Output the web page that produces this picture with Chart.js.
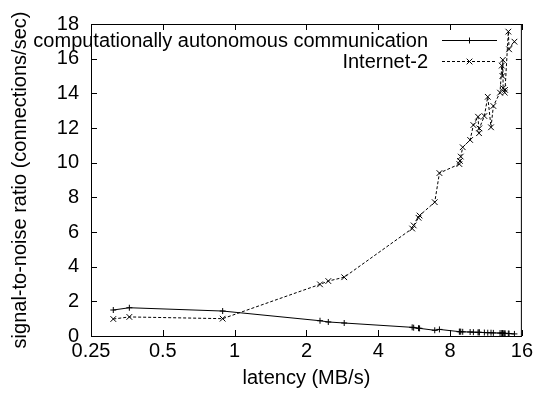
<!DOCTYPE html>
<html>
<head>
<meta charset="utf-8">
<script src="https://cdn.jsdelivr.net/npm/chart.js@4/dist/chart.umd.min.js"></script>
<style>
  html, body { margin: 0; padding: 0; background: #fff; }
  canvas { display: block; }
</style>
</head>
<body>
<canvas id="c" width="536" height="400"></canvas>
<script>
// ---- data ----
const latency = [0.31, 0.362, 0.891, 2.28, 2.47, 2.88, 5.55, 5.63, 5.9, 5.96, 6.9, 7.22,
  8.75, 8.8, 8.87, 9.04, 9.71, 10.02, 10.48, 10.58, 10.61, 11.14, 11.51, 11.88, 12.15,
  12.96, 13.18, 13.26, 13.31, 13.35, 13.56, 13.6, 14.04, 14.14, 14.89];
const autonomousSNR = [1.5, 1.63, 1.44, 0.88, 0.81, 0.75, 0.5, 0.48, 0.45, 0.44, 0.33, 0.38,
  0.25, 0.25, 0.25, 0.24, 0.23, 0.22, 0.21, 0.21, 0.21, 0.2, 0.19, 0.19, 0.18,
  0.17, 0.17, 0.16, 0.16, 0.16, 0.15, 0.15, 0.14, 0.14, 0.12];
const internet2SNR = [0.98, 1.1, 1.0, 2.98, 3.17, 3.39, 6.2, 6.38, 6.82, 6.95, 7.72, 9.4,
  9.92, 10.1, 10.35, 10.89, 11.31, 12.17, 12.65, 11.7, 11.98, 12.69, 13.8, 12.04, 13.27,
  14.04, 15.6, 15.0, 15.93, 14.3, 14.04, 14.2, 17.56, 16.54, 16.98];
const seriesNames = ['computationally autonomous communication', 'Internet-2'];
const xTickValues = [0.25, 0.5, 1, 2, 4, 8, 16];
const yMin = 0, yMax = 18, yStep = 2;
const xTitle = 'latency (MB/s)';
const yTitle = 'signal-to-noise ratio (connections/sec)';

const FONT = '"Liberation Sans", Arial, Helvetica, sans-serif';
Chart.defaults.font.family = FONT;
Chart.defaults.font.size = 20;
Chart.defaults.color = '#000';

const toPts = ys => latency.map((x, i) => ({ x: x, y: ys[i] }));

function drawMarker(ctx, style, x, y, r) {
  ctx.beginPath();
  if (style === 'cross') {
    ctx.moveTo(x - r, y); ctx.lineTo(x + r, y);
    ctx.moveTo(x, y - r); ctx.lineTo(x, y + r);
  } else {
    const d = r * Math.SQRT1_2;
    ctx.moveTo(x - d, y - d); ctx.lineTo(x + d, y + d);
    ctx.moveTo(x - d, y + d); ctx.lineTo(x + d, y - d);
  }
  ctx.stroke();
}

const framePlugin = {
  id: 'frame',
  afterDraw(chart) {
    const ctx = chart.ctx, a = chart.chartArea;
    const xs = chart.scales.x, ys = chart.scales.y;
    ctx.save();
    ctx.strokeStyle = '#000';
    ctx.lineWidth = 1;
    ctx.strokeRect(a.left + 0.5, a.top + 0.5, a.right - a.left - 1, a.bottom - a.top);
    const tl = 6;
    ctx.beginPath();
    ys.ticks.forEach(t => {
      const p = Math.round(ys.getPixelForValue(t.value)) + 0.5;
      ctx.moveTo(a.left, p); ctx.lineTo(a.left + tl, p);
      ctx.moveTo(a.right, p); ctx.lineTo(a.right - tl, p);
    });
    xs.ticks.forEach(t => {
      const p = Math.round(xs.getPixelForValue(t.value)) + 0.5;
      ctx.moveTo(p, a.bottom); ctx.lineTo(p, a.bottom - tl);
      ctx.moveTo(p, a.top); ctx.lineTo(p, a.top + tl);
    });
    ctx.stroke();

    // legend (gnuplot style: text right-aligned, sample to the right)
    const textRight = 428, lineL = 442, lineR = 497;
    const rows = [40, 61];
    ctx.font = '20px ' + FONT;
    ctx.fillStyle = '#000';
    ctx.textAlign = 'right';
    ctx.textBaseline = 'middle';
    chart.data.datasets.forEach((ds, i) => {
      const y = rows[i];
      ctx.fillText(ds.label, textRight, y + 1);
      ctx.beginPath();
      ctx.setLineDash(ds.borderDash || []);
      ctx.moveTo(lineL, y + 0.5); ctx.lineTo(lineR, y + 0.5);
      ctx.stroke();
      ctx.setLineDash([]);
      drawMarker(ctx, ds.pointStyle, (lineL + lineR) / 2, y + 0.5, ds.pointRadius);
    });
    ctx.restore();
  }
};

new Chart(document.getElementById('c'), {
  type: 'scatter',
  data: {
    datasets: [
      {
        label: seriesNames[0],
        data: toPts(autonomousSNR),
        showLine: true,
        borderColor: '#000',
        backgroundColor: '#000',
        borderWidth: 1,
        pointStyle: 'cross',
        pointRadius: 3,
        pointBorderWidth: 1,
        pointBorderColor: '#000'
      },
      {
        label: seriesNames[1],
        data: toPts(internet2SNR),
        showLine: true,
        borderColor: '#000',
        backgroundColor: '#000',
        borderWidth: 1,
        borderDash: [3, 2],
        pointStyle: 'crossRot',
        pointRadius: 4,
        pointBorderWidth: 1,
        pointBorderColor: '#000'
      }
    ]
  },
  options: {
    responsive: false,
    animation: false,
    events: [],
    layout: { padding: { left: 0, right: 14, top: 24, bottom: 0 } },
    plugins: { legend: { display: false }, tooltip: { enabled: false } },
    scales: {
      x: {
        type: 'logarithmic',
        min: 0.25,
        max: 16,
        afterBuildTicks(scale) { scale.ticks = xTickValues.map(v => ({ value: v })); },
        afterFit(scale) { scale.height = 64; },
        grid: { display: false, drawTicks: false },
        border: { display: false },
        ticks: {
          autoSkip: false,
          maxRotation: 0,
          padding: 3,
          callback: v => String(v)
        },
        title: { display: true, text: xTitle, padding: { top: 0, bottom: 10 } }
      },
      y: {
        type: 'linear',
        min: yMin,
        max: yMax,
        afterFit(scale) { scale.width = 91; },
        grid: { display: false, drawTicks: false },
        border: { display: false },
        ticks: { stepSize: yStep, padding: 12 },
        title: { display: true, text: yTitle, padding: { top: 8, bottom: 0 } }
      }
    }
  },
  plugins: [framePlugin]
});
</script>
</body>
</html>
